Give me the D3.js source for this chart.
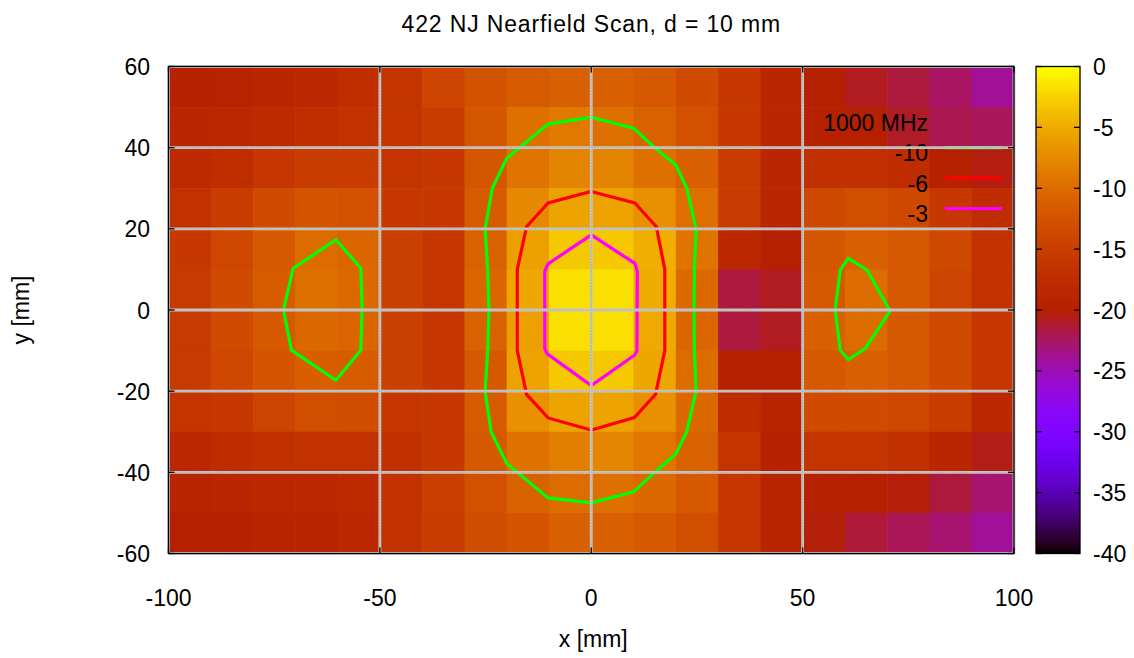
<!DOCTYPE html>
<html>
<head>
<meta charset="utf-8">
<script src="https://cdn.jsdelivr.net/npm/d3@7"></script>
<style>
  html, body { margin: 0; padding: 0; background: #ffffff; }
  svg { display: block; }
  text { font-family: "Liberation Sans", Arial, Helvetica, sans-serif; fill: #000; }
</style>
</head>
<body>
<script>
// ---------------- data ----------------
const titleText = "422 NJ Nearfield Scan, d = 10 mm";
const xLabelText = "x [mm]";
const yLabelText = "y [mm]";
const legendTitle = "1000 MHz";

const xTicks = [-100, -50, 0, 50, 100];
const yTicks = [-60, -40, -20, 0, 20, 40, 60];
const cbTicks = [0, -5, -10, -15, -20, -25, -30, -35, -40];

// cell centres (10 mm cells)
const xCenters = [-95, -85, -75, -65, -55, -45, -35, -25, -15, -5, 5, 15, 25, 35, 45, 55, 65, 75, 85, 95];
const yCenters = [55, 45, 35, 25, 15, 5, -5, -15, -25, -35, -45, -55];

// field level in dB, one array per row (top to bottom)
const row_y55  = [-19.6,-19.4,-18.8,-18.4,-17.4,-16.5,-14.2,-12.6,-11.7,-11.1,-11.1,-11.9,-13.5,-15.9,-18.8,-20.0,-20.8,-21.5,-22.5,-24.0];
const row_y45  = [-18.8,-18.4,-18.1,-17.4,-16.8,-16.5,-15.3,-12.2,-9.6,-8.9,-9.6,-10.9,-12.8,-15.9,-18.8,-19.6,-20.0,-21.0,-22.0,-22.3];
const row_y35  = [-18.1,-17.4,-16.2,-15.3,-15.3,-16.5,-15.9,-12.2,-9.25,-7.9,-8.0,-9.6,-11.1,-15.3,-18.8,-17.1,-17.1,-17.7,-19.6,-20.4];
const row_y25  = [-16.8,-15.3,-13.5,-12.4,-12.8,-15.9,-15.9,-11.7,-7.6,-5.6,-5.6,-6.9,-9.8,-15.5,-18.8,-13.8,-13.1,-13.8,-15.9,-17.7];
const row_y15  = [-15.9,-14.0,-11.9,-10.0,-10.5,-14.8,-15.9,-10.9,-5.75,-3.1,-3.1,-4.8,-9.25,-18.4,-20.0,-12.2,-11.1,-11.9,-13.8,-16.8];
const row_y5   = [-15.6,-13.5,-11.5,-9.6,-10.3,-14.8,-16.2,-10.5,-5.3,-1.7,-1.7,-4.9,-10.2,-21.6,-20.8,-11.9,-9.9,-11.9,-14.3,-16.8];
const row_ym5  = [-15.6,-13.5,-11.9,-10.3,-10.7,-14.8,-15.9,-10.9,-5.75,-1.7,-1.7,-5.06,-10.5,-21.6,-20.8,-11.1,-10.0,-11.9,-13.5,-16.2];
const row_ym15 = [-15.6,-14.0,-12.4,-11.3,-11.5,-14.8,-15.9,-11.9,-5.6,-3.1,-3.1,-5.3,-10.0,-20.0,-20.0,-11.9,-11.1,-11.9,-13.5,-16.2];
const row_ym25 = [-16.5,-15.9,-14.3,-13.1,-13.3,-16.2,-16.2,-11.7,-6.9,-5.5,-5.5,-6.9,-10.2,-17.7,-19.2,-13.5,-13.5,-14.0,-15.3,-18.4];
const row_ym35 = [-18.4,-17.7,-17.1,-16.8,-16.8,-17.1,-15.9,-11.9,-9.4,-8.3,-7.75,-9.1,-10.9,-16.5,-19.6,-16.5,-16.5,-17.1,-18.8,-20.6];
const row_ym45 = [-19.2,-18.8,-18.4,-18.4,-18.1,-16.8,-15.0,-12.8,-10.9,-10.0,-9.6,-10.3,-11.9,-16.2,-19.2,-19.6,-20.0,-20.2,-21.5,-22.9];
const row_ym55 = [-20.0,-19.6,-19.2,-19.2,-18.4,-16.8,-15.3,-13.3,-12.4,-11.1,-11.1,-11.9,-13.1,-16.2,-19.2,-20.2,-21.4,-22.2,-22.9,-24.1];
const rows = [row_y55, row_y45, row_y35, row_y25, row_y15, row_y5, row_ym5, row_ym15, row_ym25, row_ym35, row_ym45, row_ym55];

// contour lines [x mm, y mm]
const contour10Center = [[0,47.5],[10,44.8],[15,40],[20,35.7],[22.6,30],[24.8,20],[24.4,10],[24.3,0],[24.4,-10],[24.8,-20],[22.6,-30],[20,-35.5],[15,-40],[10,-44.8],[0,-47.5],[-10.2,-46.3],[-20,-37.8],[-23.7,-30],[-25.1,-20],[-24.5,-10],[-24.2,0],[-24.5,10],[-25.1,20],[-23.4,30],[-20,37.4],[-10.2,45.8]];
const contour10Left = [[-60.4,17.3],[-70.5,10.3],[-72.8,0],[-70.9,-9.9],[-60.4,-17.3],[-54.5,-9.9],[-54.2,0],[-54.5,10.3]];
const contour10Right = [[60.8,12.7],[58.9,9.9],[57.7,0],[58.9,-9.9],[60.8,-12.2],[64.8,-9.5],[70.7,-0.2],[65.2,9.9]];
const contour6 = [[0,29.2],[10.3,26.4],[15.4,20.5],[17.4,10],[17.4,-10],[15.2,-20.8],[10.2,-26.5],[0,-29.6],[-10.2,-26.6],[-15.3,-20.8],[-17.5,-10],[-17.5,10],[-15.3,20.5],[-10.2,26.4]];
const contour3 = [[0,18.5],[10.3,11.5],[10.9,9.5],[10.8,-10],[10.3,-11.1],[0,-18.6],[-10.4,-10.8],[-11,-9.5],[-11,9.5],[-10.2,11.4]];

const legendLevels = ["-10", "-6", "-3"];
const legendColors = ["#00ff00", "#ff0000", "#ff00ff"];

// ---------------- layout ----------------
const W = 1134, H = 658;
const plot = { left: 168.5, right: 1014, top: 66.5, bottom: 553.5 };
const cb = { left: 1036, right: 1080 };

const svg = d3.select("body").append("svg").attr("width", W).attr("height", H);

const x = d3.scaleLinear().domain([-100, 100]).range([plot.left, plot.right]);
const y = d3.scaleLinear().domain([-60, 60]).range([plot.bottom, plot.top]);
const cbScale = d3.scaleLinear().domain([-40, 0]).range([plot.bottom, plot.top]);

// gnuplot rgbformulae 7,5,15
function palette(v) {
  let g = (v + 40) / 40;
  g = Math.max(0, Math.min(1, g));
  const r = Math.sqrt(g);
  const gg = g * g * g;
  const b = Math.max(0, Math.sin(2 * Math.PI * g));
  return d3.rgb(Math.round(r * 255), Math.round(gg * 255), Math.round(b * 255)).formatHex();
}

// ---------------- heatmap ----------------
const cells = [];
rows.forEach((row, ri) => row.forEach((v, ci) => cells.push({ xc: xCenters[ci], yc: yCenters[ri], v })));

const clipId = "plotclip";
svg.append("clipPath").attr("id", clipId).append("rect")
  .attr("x", plot.left).attr("y", plot.top)
  .attr("width", plot.right - plot.left).attr("height", plot.bottom - plot.top);

const gPlot = svg.append("g").attr("clip-path", `url(#${clipId})`);
gPlot.selectAll("rect.cell").data(cells).join("rect")
  .attr("class", "cell")
  .attr("x", d => x(d.xc - 5))
  .attr("y", d => y(d.yc + 5))
  .attr("width", d => x(d.xc + 5) - x(d.xc - 5) + 0.6)
  .attr("height", d => y(d.yc - 5) - y(d.yc + 5) + 0.6)
  .attr("fill", d => palette(d.v));

// ---------------- contours ----------------
const line = d3.line().x(d => x(d[0])).y(d => y(d[1])).curve(d3.curveLinearClosed);
const contours = [
  { pts: contour10Center, c: "#00ff00" },
  { pts: contour10Left, c: "#00ff00" },
  { pts: contour10Right, c: "#00ff00" },
  { pts: contour6, c: "#ff0000" },
  { pts: contour3, c: "#ff00ff" }
];
gPlot.selectAll("path.contour").data(contours).join("path")
  .attr("class", "contour")
  .attr("d", d => line(d.pts))
  .attr("fill", "none")
  .attr("stroke", d => d.c)
  .attr("stroke-width", 3.2)
  .attr("stroke-linejoin", "miter");

// ---------------- legend ----------------
const legX = 928, legSampleX0 = 945, legSampleX1 = 1002;
const legLineY0 = y(40), legStep = 30.5;
svg.append("text").attr("x", legX).attr("y", legLineY0 - legStep + 13.5)
  .attr("text-anchor", "end").attr("font-size", 23).text(legendTitle);
legendLevels.forEach((lab, i) => {
  const ly = legLineY0 + i * legStep;
  svg.append("text").attr("x", legX).attr("y", ly + 13.5)
    .attr("text-anchor", "end").attr("font-size", 23).text(lab);
  svg.append("line").attr("x1", legSampleX0).attr("x2", legSampleX1)
    .attr("y1", ly).attr("y2", ly)
    .attr("stroke", legendColors[i]).attr("stroke-width", 3.2);
});

// ---------------- grid ----------------
const gGrid = svg.append("g");
function gridLine(x1, y1, x2, y2) {
  gGrid.append("line").attr("x1", x1).attr("y1", y1).attr("x2", x2).attr("y2", y2)
    .attr("stroke", "#c8c8c8").attr("stroke-width", 2.8);
  gGrid.append("line").attr("x1", x1).attr("y1", y1).attr("x2", x2).attr("y2", y2)
    .attr("stroke", "#a6a6a6").attr("stroke-width", 1.2).attr("stroke-dasharray", "1.2,1.8");
}
xTicks.forEach(t => gridLine(x(t), plot.top, x(t), plot.bottom));
yTicks.forEach(t => gridLine(plot.left, y(t), plot.right, y(t)));

// ---------------- border and ticks ----------------
svg.append("rect").attr("x", plot.left).attr("y", plot.top)
  .attr("width", plot.right - plot.left).attr("height", plot.bottom - plot.top)
  .attr("fill", "none").attr("stroke", "#000").attr("stroke-width", 1.3);

const tl = 6;
xTicks.forEach(t => {
  svg.append("line").attr("x1", x(t)).attr("x2", x(t)).attr("y1", plot.bottom).attr("y2", plot.bottom - tl)
    .attr("stroke", "#000").attr("stroke-width", 1.3);
  svg.append("line").attr("x1", x(t)).attr("x2", x(t)).attr("y1", plot.top).attr("y2", plot.top + tl)
    .attr("stroke", "#000").attr("stroke-width", 1.3);
  svg.append("text").attr("x", x(t)).attr("y", 606).attr("text-anchor", "middle")
    .attr("font-size", 23).text(t);
});
yTicks.forEach(t => {
  svg.append("line").attr("x1", plot.left).attr("x2", plot.left + tl).attr("y1", y(t)).attr("y2", y(t))
    .attr("stroke", "#000").attr("stroke-width", 1.3);
  svg.append("line").attr("x1", plot.right).attr("x2", plot.right - tl).attr("y1", y(t)).attr("y2", y(t))
    .attr("stroke", "#000").attr("stroke-width", 1.3);
  svg.append("text").attr("x", 150).attr("y", y(t) + 8.5).attr("text-anchor", "end")
    .attr("font-size", 23).text(t);
});

// ---------------- titles ----------------
svg.append("text").attr("x", (plot.left + plot.right) / 2).attr("y", 31.5)
  .attr("text-anchor", "middle").attr("font-size", 23).attr("letter-spacing", 0.85).text(titleText);
svg.append("text").attr("x", (plot.left + plot.right) / 2 + 2).attr("y", 647)
  .attr("text-anchor", "middle").attr("font-size", 23).text(xLabelText);
svg.append("text").attr("transform", `translate(29,${(plot.top + plot.bottom) / 2}) rotate(-90)`)
  .attr("text-anchor", "middle").attr("font-size", 23).text(yLabelText);

// ---------------- colour box ----------------
const defs = svg.append("defs");
const grad = defs.append("linearGradient").attr("id", "cbgrad")
  .attr("x1", 0).attr("y1", 1).attr("x2", 0).attr("y2", 0);
d3.range(0, 101).forEach(i => {
  const v = -40 + 40 * i / 100;
  grad.append("stop").attr("offset", `${i}%`).attr("stop-color", palette(v));
});
svg.append("rect").attr("x", cb.left).attr("y", plot.top)
  .attr("width", cb.right - cb.left).attr("height", plot.bottom - plot.top)
  .attr("fill", "url(#cbgrad)").attr("stroke", "#000").attr("stroke-width", 1.3);
cbTicks.forEach(t => {
  const ty = cbScale(t);
  svg.append("line").attr("x1", cb.left).attr("x2", cb.left + tl).attr("y1", ty).attr("y2", ty)
    .attr("stroke", "#000").attr("stroke-width", 1.3);
  svg.append("line").attr("x1", cb.right).attr("x2", cb.right - tl).attr("y1", ty).attr("y2", ty)
    .attr("stroke", "#000").attr("stroke-width", 1.3);
  svg.append("text").attr("x", 1093).attr("y", ty + 8.5).attr("text-anchor", "start")
    .attr("font-size", 23).text(t);
});
</script>
</body>
</html>
